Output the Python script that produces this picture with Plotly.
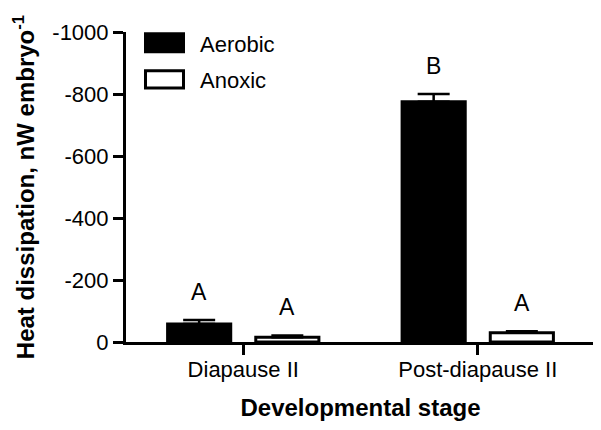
import plotly.graph_objects as go

# ---- data ----
stages = ["Diapause II", "Post-diapause II"]
aerobic = [-58, -775]
aerobic_err = [13, 25]
anoxic = [-15, -30]
anoxic_err = [6, 5]
aerobic_letters = ["A", "B"]
anoxic_letters = ["A", "A"]
y_ticks = [0, -200, -400, -600, -800, -1000]
y_ticktext = ["0", "-200", "-400", "-600", "-800", "-1000"]

FONT = "Liberation Sans, Arial, sans-serif"

fig = go.Figure()
fig.add_trace(go.Bar(
    x=stages, y=aerobic, name="Aerobic",
    marker=dict(color="black", line=dict(color="black", width=3)),
    error_y=dict(type="data", symmetric=False, array=[0, 0], arrayminus=aerobic_err,
                 color="black", thickness=2.5, width=16),
))
fig.add_trace(go.Bar(
    x=stages, y=anoxic, name="Anoxic",
    marker=dict(color="white", line=dict(color="black", width=3)),
    error_y=dict(type="data", symmetric=False, array=[0, 0], arrayminus=anoxic_err,
                 color="black", thickness=2.5, width=16),
))

# significance letters
annotations = []
for i, s in enumerate(stages):
    for vals, errs, letters, off in [(aerobic, aerobic_err, aerobic_letters, -0.188),
                                     (anoxic, anoxic_err, anoxic_letters, 0.188)]:
        annotations.append(dict(
            x=i + off, y=vals[i] - errs[i], xref="x", yref="y",
            text=letters[i], showarrow=False, yanchor="bottom", yshift=13,
            font=dict(family=FONT, size=23, color="black"),
        ))

# custom legend (positions in plot-area pixels of the reference)
def px_x(p):
    return (p - 126) / 469

def px_y(p):
    return (341.7 - p) / 310

shapes = [
    dict(type="rect", xref="paper", yref="paper",
         x0=px_x(144), x1=px_x(185), y0=px_y(53), y1=px_y(32),
         fillcolor="black", line=dict(color="black", width=0)),
    dict(type="rect", xref="paper", yref="paper",
         x0=px_x(145.5), x1=px_x(183.5), y0=px_y(87.8), y1=px_y(70.5),
         fillcolor="white", line=dict(color="black", width=3)),
]
annotations += [
    dict(x=px_x(198), y=px_y(44), xref="paper", yref="paper", text="Aerobic",
         showarrow=False, xanchor="left", yanchor="middle",
         font=dict(family=FONT, size=22, color="black")),
    dict(x=px_x(198), y=px_y(80), xref="paper", yref="paper", text="Anoxic",
         showarrow=False, xanchor="left", yanchor="middle",
         font=dict(family=FONT, size=22, color="black")),
]

# page body has an 8px default margin; compensate in the figure margins
fig.update_layout(
    width=601, height=430,
    margin=dict(l=118, r=14, t=24, b=96),
    paper_bgcolor="white", plot_bgcolor="white",
    barmode="group", bargap=0.248, bargroupgap=0.284,
    showlegend=False,
    font=dict(family=FONT, size=22, color="black"),
    shapes=shapes, annotations=annotations,
    xaxis=dict(
        range=[-0.5, 1.5], showline=True, linecolor="black", linewidth=3,
        ticks="outside", ticklen=10, tickwidth=3, tickcolor="black",
        ticklabelstandoff=-4,
        tickfont=dict(family=FONT, size=22, color="black"),
        title=dict(text="<b>Developmental stage</b>", standoff=18,
                   font=dict(family=FONT, size=24, color="black")),
        showgrid=False, zeroline=False, automargin=False,
    ),
    yaxis=dict(
        range=[0, -1000], showline=True, linecolor="black", linewidth=3,
        tickvals=y_ticks, ticktext=y_ticktext,
        ticks="outside", ticklen=10, tickwidth=3, tickcolor="black",
        tickfont=dict(family=FONT, size=22, color="black"),
        title=dict(text="<b>Heat dissipation, nW embryo<sup>-1</sup></b>", standoff=11,
                   font=dict(family=FONT, size=24, color="black")),
        showgrid=False, zeroline=False, automargin=False,
    ),
)

fig.write_html("out.html")
